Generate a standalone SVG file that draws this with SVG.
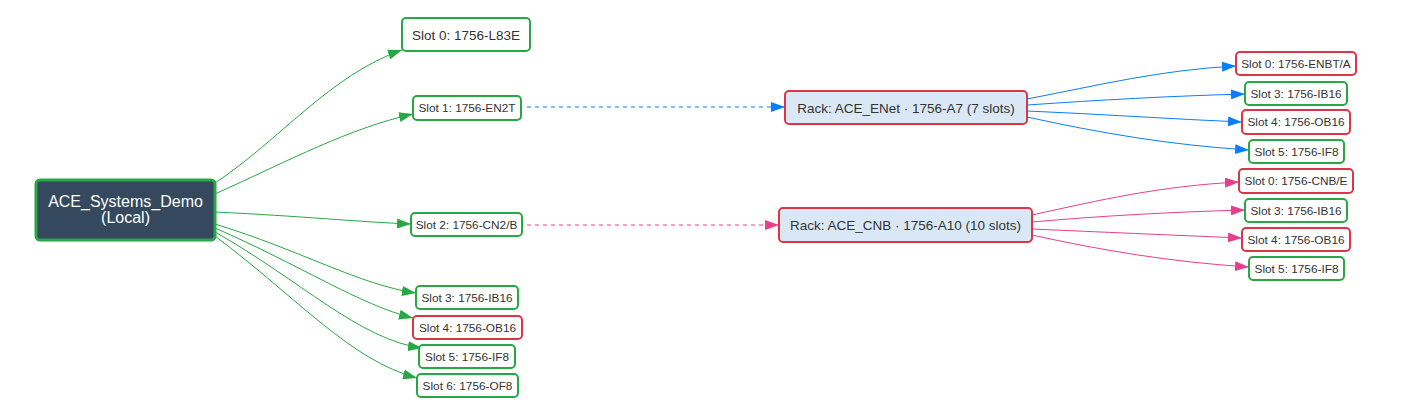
<svg xmlns="http://www.w3.org/2000/svg" width="1406" height="406" viewBox="0 0 1406 406">
<style>
text{font-family:"Liberation Sans",Arial,sans-serif;text-anchor:middle;dominant-baseline:central;fill:#333}
.n rect{fill:#fff;stroke-width:2}
.g rect{stroke:#28a745}
.r rect{stroke:#dc3545}
.k rect{fill:#dae8f6;stroke:#dc3545;stroke-width:2}
.s text{font-size:11.8px}
.e{fill:none;stroke-width:1}
.eg{stroke:#28a745}
.eb{stroke:#0a7cff}
.ep{stroke:#e83e8c}
</style>
<defs>
<marker id="ag" viewBox="0 0 14 10" refX="14" refY="5" markerWidth="14" markerHeight="10" markerUnits="userSpaceOnUse" orient="auto"><path d="M0,0L14,5L0,10z" fill="#28a745"/></marker>
<marker id="ab" viewBox="0 0 14 10" refX="14" refY="5" markerWidth="14" markerHeight="10" markerUnits="userSpaceOnUse" orient="auto"><path d="M0,0L14,5L0,10z" fill="#0a7cff"/></marker>
<marker id="ap" viewBox="0 0 14 10" refX="14" refY="5" markerWidth="14" markerHeight="10" markerUnits="userSpaceOnUse" orient="auto"><path d="M0,0L14,5L0,10z" fill="#e83e8c"/></marker>
</defs>
<rect width="1406" height="406" fill="#fff"/>
<g id="edges">
<path class="e eg" marker-end="url(#ag)" d="M215,183 C280,140 330,75 402,50"/>
<path class="e eg" marker-end="url(#ag)" d="M215,194 C290,160 350,128 413,114"/>
<path class="e eg" marker-end="url(#ag)" d="M215,212 C300,216 360,222 411,224"/>
<path class="e eg" marker-end="url(#ag)" d="M215,224 C300,250 360,285 416,293"/>
<path class="e eg" marker-end="url(#ag)" d="M215,228 C300,265 360,305 413,318"/>
<path class="e eg" marker-end="url(#ag)" d="M215,232 C300,280 360,340 422,348"/>
<path class="e eg" marker-end="url(#ag)" d="M215,236 C300,300 350,360 417,378"/>
<path class="e eb" stroke-dasharray="4,4" marker-end="url(#ab)" d="M527,107 L785,107"/>
<path class="e ep" stroke-dasharray="4,4" marker-end="url(#ap)" d="M527,225 L779,225"/>
<path class="e eb" marker-end="url(#ab)" d="M1027,99 C1100,85 1160,70 1236,66"/>
<path class="e eb" marker-end="url(#ab)" d="M1027,105 C1100,100 1170,96 1245,94"/>
<path class="e eb" marker-end="url(#ab)" d="M1027,111 C1100,114 1170,119 1242,122"/>
<path class="e eb" marker-end="url(#ab)" d="M1027,117 C1100,133 1170,145 1249,150"/>
<path class="e ep" marker-end="url(#ap)" d="M1032,215 C1100,200 1160,186 1239,182"/>
<path class="e ep" marker-end="url(#ap)" d="M1032,222 C1100,216 1170,212 1245,210"/>
<path class="e ep" marker-end="url(#ap)" d="M1032,229 C1100,232 1170,235 1242,238"/>
<path class="e ep" marker-end="url(#ap)" d="M1032,235 C1100,250 1170,262 1249,267"/>
</g>
<g id="root"><rect x="36" y="180" width="179" height="60" rx="4" fill="#34495e" stroke="#28a745" stroke-width="3"/><text x="125.5" y="201" font-size="16" style="fill:#fff">ACE_Systems_Demo</text><text x="125.5" y="217" font-size="16" style="fill:#fff">(Local)</text></g>
<g id="l0" class="n g"><rect x="402" y="18" width="128" height="33" rx="4"/><text x="466" y="35" font-size="13.5">Slot 0: 1756-L83E</text></g>
<g id="l1" class="n g s"><rect x="413" y="96" width="108" height="24" rx="4"/><text x="467" y="108">Slot 1: 1756-EN2T</text></g>
<g id="l2" class="n g s"><rect x="411" y="213" width="111" height="23" rx="4"/><text x="466.5" y="224.5">Slot 2: 1756-CN2/B</text></g>
<g id="l3" class="n g s"><rect x="416" y="286" width="102" height="23" rx="4"/><text x="467" y="297.5">Slot 3: 1756-IB16</text></g>
<g id="l4" class="n r s"><rect x="413" y="316" width="109" height="23" rx="4"/><text x="467.5" y="327.5">Slot 4: 1756-OB16</text></g>
<g id="l5" class="n g s"><rect x="419" y="345" width="96" height="23" rx="4"/><text x="467" y="356.5">Slot 5: 1756-IF8</text></g>
<g id="l6" class="n g s"><rect x="417" y="374" width="101" height="23" rx="4"/><text x="467.5" y="385.5">Slot 6: 1756-OF8</text></g>
<g id="rackE" class="k"><rect x="785" y="91" width="242" height="33" rx="4"/><text x="906" y="108" font-size="13.5">Rack: ACE_ENet · 1756-A7 (7 slots)</text></g>
<g id="rackC" class="k"><rect x="779" y="208" width="253" height="34" rx="4"/><text x="905.5" y="225" font-size="13.5">Rack: ACE_CNB · 1756-A10 (10 slots)</text></g>
<g id="e0" class="n r s"><rect x="1236" y="52" width="120" height="23" rx="4"/><text x="1296" y="63.5">Slot 0: 1756-ENBT/A</text></g>
<g id="e3" class="n g s"><rect x="1245" y="82" width="102" height="23" rx="4"/><text x="1296" y="93.5">Slot 3: 1756-IB16</text></g>
<g id="e4" class="n r s"><rect x="1242" y="110" width="108" height="24" rx="4"/><text x="1296" y="122">Slot 4: 1756-OB16</text></g>
<g id="e5" class="n g s"><rect x="1249" y="140" width="95" height="23" rx="4"/><text x="1296.5" y="151.5">Slot 5: 1756-IF8</text></g>
<g id="c0" class="n r s"><rect x="1239" y="169" width="114" height="24" rx="4"/><text x="1296" y="181">Slot 0: 1756-CNB/E</text></g>
<g id="c3" class="n g s"><rect x="1245" y="199" width="102" height="23" rx="4"/><text x="1296" y="210.5">Slot 3: 1756-IB16</text></g>
<g id="c4" class="n r s"><rect x="1242" y="228" width="108" height="23" rx="4"/><text x="1296" y="239.5">Slot 4: 1756-OB16</text></g>
<g id="c5" class="n g s"><rect x="1249" y="257" width="95" height="23" rx="4"/><text x="1296.5" y="268.5">Slot 5: 1756-IF8</text></g>
</svg>
